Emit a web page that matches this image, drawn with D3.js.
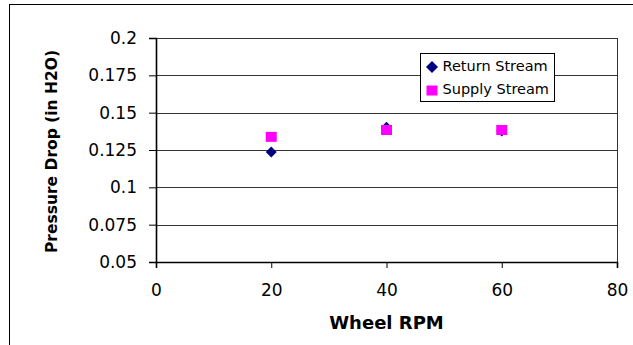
<!DOCTYPE html>
<html>
<head>
<meta charset="utf-8">
<script src="https://cdn.jsdelivr.net/npm/d3@7"></script>
<style>
  body { margin: 0; background: #fff; }
  svg { display: block; font-family: "DejaVu Sans", sans-serif; }
</style>
</head>
<body>
<div id="chart"></div>
<script>
// values
var rpm = [20, 40, 60];
var returnStream = [0.1237, 0.1403, 0.1378];
var supplyStream = [0.1338, 0.1384, 0.1384];
var xTicks = [0, 20, 40, 60, 80];
var yTicks = [0.05, 0.075, 0.1, 0.125, 0.15, 0.175, 0.2];
var seriesNames = ["Return Stream", "Supply Stream"];

var W = 633, H = 345;
var m = {left: 156, right: 16, top: 38, bottom: 83};

var svg = d3.select("#chart").append("svg").attr("width", W).attr("height", H);

// outer chart frame, only top and left edges fall inside the picture
svg.append("rect")
  .attr("x", 9.5).attr("y", 4.5)
  .attr("width", W + 20).attr("height", H + 20)
  .attr("fill", "none").attr("stroke", "#000").attr("stroke-width", 1);

var x = d3.scaleLinear().domain([0, 80]).range([m.left, W - m.right]);
var y = d3.scaleLinear().domain([0.05, 0.2]).range([H - m.bottom, m.top]);

// gridlines
svg.append("g").selectAll("line").data(yTicks.slice(1)).enter().append("line")
  .attr("x1", x(0)).attr("x2", x(80))
  .attr("y1", function(d) { return Math.round(y(d)) + 0.5; })
  .attr("y2", function(d) { return Math.round(y(d)) + 0.5; })
  .attr("stroke", "#333").attr("stroke-width", 1);

// right border of plot
svg.append("line")
  .attr("x1", Math.round(x(80)) + 0.5).attr("x2", Math.round(x(80)) + 0.5)
  .attr("y1", y(0.2)).attr("y2", y(0.05))
  .attr("stroke", "#333");

// axes
var yAxis = svg.append("g")
  .attr("transform", "translate(" + x(0) + ",0)")
  .call(d3.axisLeft(y).tickValues(yTicks).tickSize(7).tickPadding(12)
    .tickFormat(function(d) { return String(+d.toFixed(3)); }));
var xAxis = svg.append("g")
  .attr("transform", "translate(0," + y(0.05) + ")")
  .call(d3.axisBottom(x).tickValues(xTicks).tickSize(6).tickPadding(16));

[yAxis, xAxis].forEach(function(a) {
  a.attr("font-family", null).attr("font-size", null);
  a.select(".domain").attr("stroke", "#000").attr("stroke-width", 1.6);
  a.selectAll(".tick line").attr("stroke", "#000");
  a.selectAll("text").attr("font-size", 17).attr("fill", "#000");
});

// axis titles
svg.append("text")
  .attr("transform", "translate(56.5," + 151.5 + ") rotate(-90)")
  .attr("text-anchor", "middle")
  .attr("font-size", 15.5).attr("font-weight", "bold")
  .text("Pressure Drop (in H2O)");
svg.append("text")
  .attr("x", (x(0) + x(80)) / 2).attr("y", 329)
  .attr("text-anchor", "middle")
  .attr("font-size", 18).attr("font-weight", "bold")
  .text("Wheel RPM");

// markers
function diamondPath(r) {
  return "M0," + (-r) + "L" + r + ",0L0," + r + "L" + (-r) + ",0Z";
}
svg.append("g").selectAll("path").data(rpm).enter().append("path")
  .attr("d", diamondPath(5.5))
  .attr("transform", function(d, i) { return "translate(" + x(d) + "," + y(returnStream[i]) + ")"; })
  .attr("fill", "#000080");

svg.append("g").selectAll("rect").data(rpm).enter().append("rect")
  .attr("x", function(d) { return x(d) - 5.5; })
  .attr("y", function(d, i) { return y(supplyStream[i]) - 5; })
  .attr("width", 11).attr("height", 10)
  .attr("fill", "#ff00ff");

// legend
var lg = svg.append("g").attr("transform", "translate(420.5,53.5)");
lg.append("rect").attr("width", 134).attr("height", 48)
  .attr("fill", "#fff").attr("stroke", "#000");
lg.append("path").attr("d", diamondPath(6))
  .attr("transform", "translate(11.5,13.5)").attr("fill", "#000080");
lg.append("rect").attr("x", 6).attr("y", 32).attr("width", 11).attr("height", 10)
  .attr("fill", "#ff00ff");
lg.selectAll("text").data(seriesNames).enter().append("text")
  .attr("x", 22).attr("y", function(d, i) { return 17.5 + i * 23.3; })
  .attr("font-size", 14.5)
  .text(function(d) { return d; });
</script>
</body>
</html>
